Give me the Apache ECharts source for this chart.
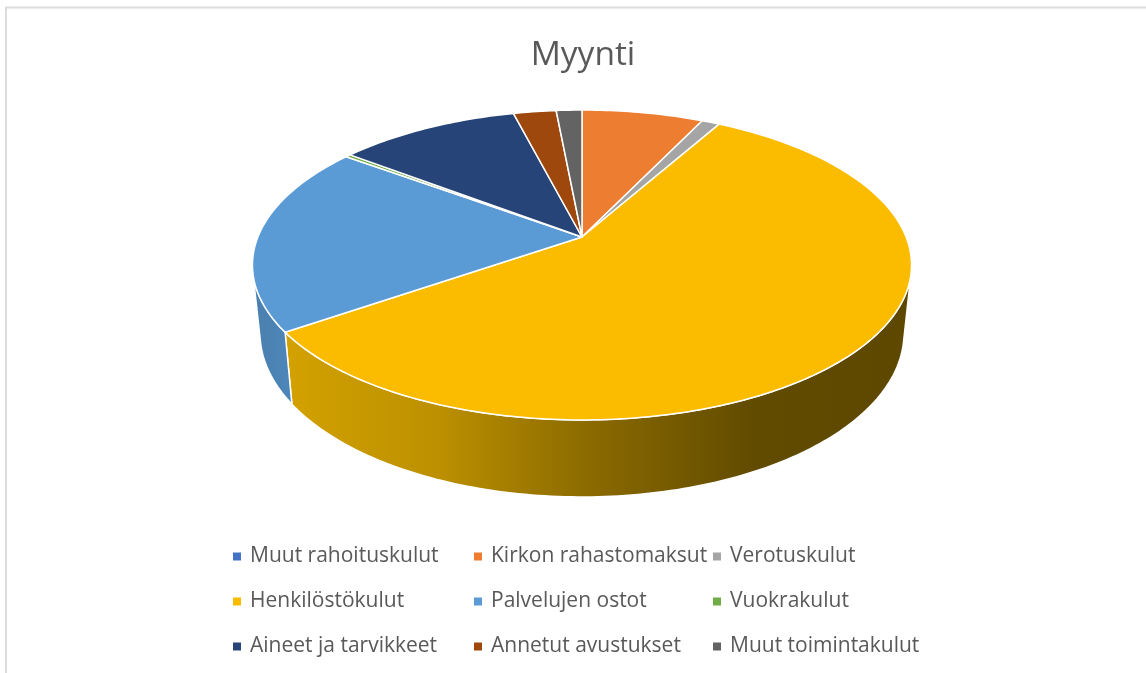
<!DOCTYPE html>
<html>
<head>
<meta charset="utf-8">
<style>
html, body { margin: 0; padding: 0; background: #fff; }
#chart { width: 1146px; height: 673px; }
</style>
<script src="https://cdn.jsdelivr.net/npm/echarts@6/dist/echarts.min.js"></script>
</head>
<body>
<div id="chart"></div>
<script>
// values, in percent of the whole
const categories = ['Muut rahoituskulut', 'Kirkon rahastomaksut', 'Verotuskulut', 'Henkilöstökulut', 'Palvelujen ostot', 'Vuokrakulut', 'Aineet ja tarvikkeet', 'Annetut avustukset', 'Muut toimintakulut']
const shares = [0, 7.1, 1.05, 57.2, 19.75, 0.3, 10.6, 2.5, 1.5]
const colors = ['#4472c4', '#ed7d31', '#a5a5a5', '#fbbc00', '#5b9bd5', '#70ad47', '#264478', '#9e480e', '#636363']
const legendColumns = [
    ['Muut rahoituskulut', 'Henkilöstökulut', 'Aineet ja tarvikkeet'],
    ['Kirkon rahastomaksut', 'Palvelujen ostot', 'Annetut avustukset'],
    ['Verotuskulut', 'Vuokrakulut', 'Muut toimintakulut']
]

// perspective of the disc: t tilts the circle, A/B scale it, y0 is where the centre lands
const tilt = 0.1806
const topRim = { x0: 582, y0: 237, A: 149.9, B: 324.1 }
const bottomRim = { x0: 582, y0: 303.4, A: 158.6, B: 316.7 }
// part of the wall that faces the viewer (degrees clockwise from 12 o'clock)
const wallFrom = 103
const wallTo = 257

// side colours, left to right
const wallStops = {
    'Henkilöstökulut': ['#d3a200', '#bb8f00', '#886800', '#614b00', '#5e4800'],
    'Palvelujen ostot': ['#4a80ae', '#4d86ba']
}

function project(rim, deg) {
    const a = deg * Math.PI / 180
    const u = Math.sin(a), v = Math.cos(a)
    const w = 1 + tilt * v
    return [rim.x0 + rim.B * u / w, rim.y0 - rim.A * v / w]
}

function arc(rim, from, to) {
    const pts = []
    const n = Math.max(2, Math.ceil(Math.abs(to - from)))
    for (let i = 0; i <= n; i++) pts.push(project(rim, from + (to - from) * i / n))
    return pts
}

const total = shares.reduce((s, v) => s + v, 0)
const startShare = shares.map((_, i) => shares.slice(0, i).reduce((s, v) => s + v, 0))

function renderSlice(index, api) {
    const value = api.value(0)
    if (!value) return { type: 'group', children: [] }
    const from = startShare[index] / total * 360
    const to = from + value / total * 360
    const children = []

    const wFrom = Math.max(from, wallFrom)
    const wTo = Math.min(to, wallTo)
    if (wTo > wFrom) {
        const stops = wallStops[categories[index]]
        children.push({
            type: 'polygon',
            z2: 1,
            shape: { points: arc(topRim, wFrom, wTo).concat(arc(bottomRim, wTo, wFrom)) },
            style: {
                fill: new echarts.graphic.LinearGradient(0, 0, 1, 0, stops.map((c, i) => ({ offset: i / (stops.length - 1), color: c }))),
                stroke: '#fff',
                lineWidth: 1.5,
                lineJoin: 'round'
            }
        })
    }
    children.push({
        type: 'polygon',
        z2: 2,
        shape: { points: [[topRim.x0, topRim.y0]].concat(arc(topRim, from, to)) },
        style: { fill: colors[index], stroke: '#fff', lineWidth: 1.5, lineJoin: 'round' }
    })
    return { type: 'group', children: children }
}

const myChart = echarts.init(document.getElementById('chart'))
const columnLeft = [233, 474, 713]

myChart.setOption({
    animation: false,
    backgroundColor: '#fff',
    title: {
        text: 'Myynti',
        left: 578,
        top: 33,
        textAlign: 'center',
        textStyle: { color: '#595959', fontSize: 33.5, fontWeight: 'normal', fontFamily: 'Open Sans' }
    },
    legend: legendColumns.map((names, i) => ({
        data: names,
        orient: 'vertical',
        left: columnLeft[i],
        top: 543,
        padding: 0,
        itemGap: 18,
        itemWidth: 8,
        itemHeight: 8,
        icon: 'rect',
        selectedMode: false,
        textStyle: { color: '#595959', fontSize: 21, fontFamily: 'Open Sans', padding: [0, 0, 0, 4], lineHeight: 27, height: 27 }
    })),
    graphic: [
        // frame of the chart area
        { type: 'polyline', silent: true, shape: { points: [[6, 673], [6, 7.5], [1146, 7.5]] }, style: { fill: null, stroke: '#dcdcdc', lineWidth: 2 } }
    ],
    series: categories.map((name, i) => ({
        type: 'custom',
        name: name,
        coordinateSystem: 'none',
        itemStyle: { color: colors[i] },
        data: [[shares[i]]],
        renderItem: (params, api) => renderSlice(i, api)
    }))
})
</script>
</body>
</html>
